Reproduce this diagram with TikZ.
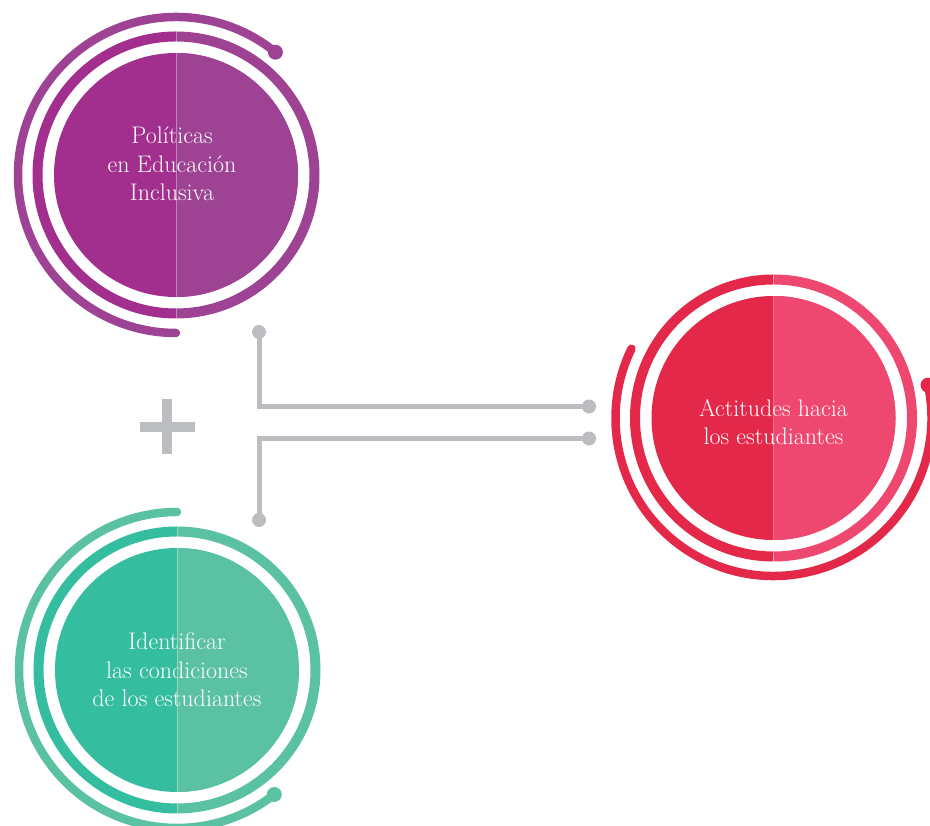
\documentclass[tikz,border=0pt]{standalone}
\usepackage{fontspec}
\definecolor{polA}{HTML}{A22E8E}
\definecolor{polB}{HTML}{9E4394}
\definecolor{actA}{HTML}{E4284A}
\definecolor{actB}{HTML}{EF4870}
\definecolor{idA}{HTML}{35BDA0}
\definecolor{idB}{HTML}{5BC1A3}
\definecolor{linkgray}{HTML}{BCBDC0}
\begin{document}
\begin{tikzpicture}[x=1pt, y=1pt,
        disk/.style 2 args={circle, inner sep=0pt, minimum size=244pt, fill=#1,
            path picture={\fill[#2] (path picture bounding box.north) rectangle (path picture bounding box.south east);}},
        caption/.style={text=white, align=center, font=\fontsize{24}{28.5}\selectfont},
        ring/.style={line width=10pt},
        outer/.style={line width=8.5pt, line cap=round},
        dot/.style={circle, inner sep=0pt, minimum size=15pt},
        link/.style={linkgray, line width=5pt},
        split/.style={white, opacity=0.35, line width=0.8pt}
    ]
    \useasboundingbox (0,0) rectangle (930,826);

    % the three circles
    \node[disk={polA}{polB}] (pol) at (176,651) {};
    \node[disk={actA}{actB}] (act) at (773.5,408) {};
    \node[disk={idA}{idB}] (ide) at (177,156) {};

    % middle rings
    \draw[ring, polA] ([shift={(90:138.5)}]pol.center) arc[start angle=90, end angle=270, radius=138.5];
    \draw[ring, polB] ([shift={(-90:138.5)}]pol.center) arc[start angle=-90, end angle=90, radius=138.5];
    \draw[ring, actA] ([shift={(90:138.5)}]act.center) arc[start angle=90, end angle=270, radius=138.5];
    \draw[ring, actB] ([shift={(-90:138.5)}]act.center) arc[start angle=-90, end angle=90, radius=138.5];
    \draw[ring, idA] ([shift={(90:138.5)}]ide.center) arc[start angle=90, end angle=270, radius=138.5];
    \draw[ring, idB] ([shift={(-90:138.5)}]ide.center) arc[start angle=-90, end angle=90, radius=138.5];

    \draw[split] ([yshift=143.5]pol.center) -- ([yshift=-143.5]pol.center);
    \draw[split] ([yshift=143.5]act.center) -- ([yshift=-143.5]act.center);
    \draw[split] ([yshift=143.5]ide.center) -- ([yshift=-143.5]ide.center);

    % texts
    \node[caption] (poltext) at ([shift={(-4,11)}]pol.center) {Políticas\\en Educación\\Inclusiva};
    \node[caption] (acttext) at ([yshift=-4]act.center) {Actitudes hacia\\los estudiantes};
    \node[caption] (idetext) at (ide.center) {Identificar\\las condiciones\\de los estudiantes};

    % outer arcs with end dots
    \node[dot, fill=polB] (poldot) at ([shift={(51:158)}]pol.center) {};
    \draw[outer, polB] (poldot.center) arc[start angle=51, end angle=270, radius=158];
    \node[dot, fill=actA] (actdot) at ([shift={(12:158)}]act.center) {};
    \draw[outer, actA] (actdot.center) arc[start angle=12, end angle=-206, radius=158];
    \node[dot, fill=idB] (idedot) at ([shift={(-52:158)}]ide.center) {};
    \draw[outer, idB] (idedot.center) arc[start angle=-52, end angle=-270, radius=158];

    % connectors
    \node[dot, minimum size=14pt, fill=linkgray] (top) at (259,494) {};
    \node[dot, minimum size=14pt, fill=linkgray] (right1) at (589,419.5) {};
    \node[dot, minimum size=14pt, fill=linkgray] (right2) at (589,387.5) {};
    \node[dot, minimum size=14pt, fill=linkgray] (bottom) at (259,306) {};
    \draw[link] (top.center) |- (right1.center);
    \draw[link] (right2.center) -| (bottom.center);

    % plus sign
    \coordinate (plus) at (167,399);
    \fill[linkgray] ([shift={(-27.5,-5)}]plus) rectangle ([shift={(27.5,5)}]plus);
    \fill[linkgray] ([shift={(-5,-27.5)}]plus) rectangle ([shift={(5,27.5)}]plus);
\end{tikzpicture}
\end{document}
